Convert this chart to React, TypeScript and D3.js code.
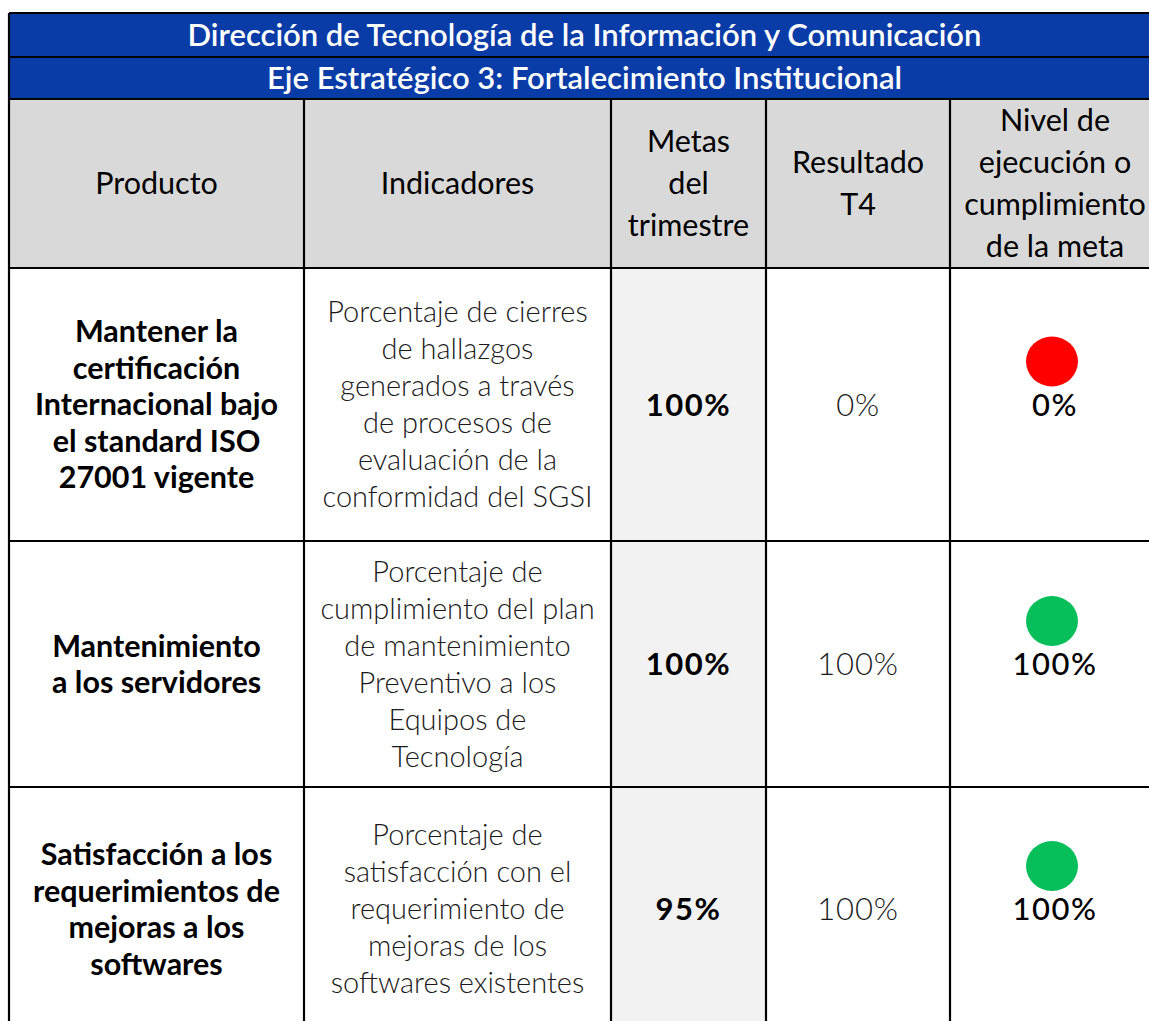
import React from 'react';
import * as d3 from 'd3';

const titles = [
  'Dirección de Tecnología de la Información y Comunicación',
  'Eje Estratégico 3: Fortalecimiento Institucional',
];

const headers = [
  ['Producto'],
  ['Indicadores'],
  ['Metas', 'del', 'trimestre'],
  ['Resultado', 'T4'],
  ['Nivel de', 'ejecución o', 'cumplimiento', 'de la meta'],
];

const products = [
  ['Mantener la', 'certificación', 'Internacional bajo', 'el standard ISO', '27001 vigente'],
  ['Mantenimiento', 'a los servidores'],
  ['Satisfacción a los', 'requerimientos de', 'mejoras a los', 'softwares'],
];

const indicators = [
  ['Porcentaje de cierres', 'de hallazgos', 'generados a través', 'de procesos de', 'evaluación de la', 'conformidad del SGSI'],
  ['Porcentaje de', 'cumplimiento del plan', 'de mantenimiento', 'Preventivo a los', 'Equipos de', 'Tecnología'],
  ['Porcentaje de', 'satisfacción con el', 'requerimiento de', 'mejoras de los', 'softwares existentes'],
];

const metas = [100, 100, 95];
const resultados = [0, 100, 100];
const cumplimiento = [0, 100, 100];

// layout
const colWidths = [295, 307, 155, 184, 210];
const rowHeights = [44, 42, 169, 273, 246, 244];
const x0 = 9;
const y0 = 13;
const xEdges = [x0, ...Array.from(d3.cumsum(colWidths), (d) => x0 + d)];
const yEdges = [y0, ...Array.from(d3.cumsum(rowHeights), (d) => y0 + d)];
const tableRight = xEdges[xEdges.length - 1];
const colCenter = (i: number) => (xEdges[i] + xEdges[i + 1]) / 2;
const rowCenter = (i: number) => (yEdges[i] + yEdges[i + 1]) / 2;

const BLUE = '#0a3ca8';
const FONT = 'Lato, "Noto Sans", sans-serif';

const pct = (v: number) => `${v}%`;
const status = d3.scaleThreshold<number, string>().domain([50]).range(['#ff0000', '#06bf5a']);

function Lines({ lines, x, cy, step, ...rest }: any) {
  const start = cy - ((lines.length - 1) * step) / 2;
  return (
    <text x={x} textAnchor="middle" fontFamily={FONT} {...rest}>
      {lines.map((l: string, i: number) => (
        <tspan key={i} x={x} y={start + i * step} dy="0.36em">{l}</tspan>
      ))}
    </text>
  );
}

export default function App() {
  const bodyRows = [3, 4, 5];
  return (
    <svg
      width={1149}
      height={1021}
      style={{ position: 'absolute', left: 0, top: 0, background: '#fff' }}
    >
      {/* title bands */}
      {titles.map((t, i) => (
        <g key={t}>
          <rect x={x0} y={yEdges[i]} width={tableRight - x0} height={rowHeights[i]} fill={BLUE} />
          <text
            x={(x0 + tableRight) / 2}
            y={rowCenter(i)}
            dy="0.36em"
            textAnchor="middle"
            fill="#fff"
            fontFamily={FONT}
            fontWeight={600}
            fontSize={31}
          >
            {t}
          </text>
        </g>
      ))}

      {/* header row */}
      <rect x={x0} y={yEdges[2]} width={tableRight - x0} height={rowHeights[2]} fill="#d9d9d9" />
      {headers.map((h, i) => (
        <Lines key={i} lines={h} x={colCenter(i)} cy={rowCenter(2)} step={42} fontSize={30.5} fill="#000" />
      ))}

      {/* metas column shading */}
      <rect x={xEdges[2]} y={yEdges[3]} width={colWidths[2]} height={yEdges[6] - yEdges[3]} fill="#f2f2f2" />

      {bodyRows.map((r, k) => (
        <g key={r}>
          <Lines lines={products[k]} x={colCenter(0)} cy={rowCenter(r)} step={36.5} fontSize={30.5} fontWeight={700} fill="#000" />
          <Lines lines={indicators[k]} x={colCenter(1)} cy={rowCenter(r)} step={37} fontSize={29} fontWeight={300} fill="#1a1a1a" />
          <text x={colCenter(2)} y={rowCenter(r)} dy="0.36em" textAnchor="middle" fontFamily={FONT} fontWeight={700} fontSize={31} letterSpacing={1.5}>
            {pct(metas[k])}
          </text>
          <text x={colCenter(3)} y={rowCenter(r)} dy="0.36em" textAnchor="middle" fontFamily={FONT} fontWeight={300} fontSize={31} letterSpacing={0.8} fill="#1a1a1a">
            {pct(resultados[k])}
          </text>
          <ellipse cx={colCenter(4) - 3} cy={rowCenter(r) - 43} rx={26} ry={25} fill={status(cumplimiento[k])} />
          <text x={colCenter(4)} y={rowCenter(r)} dy="0.36em" textAnchor="middle" fontFamily={FONT} fontWeight={500} fontSize={31} letterSpacing={1.5}>
            {pct(cumplimiento[k])}
          </text>
        </g>
      ))}

      {/* grid lines */}
      <g stroke="#000" strokeWidth={2.2}>
        {yEdges.slice(0, 6).map((y, i) => (
          <line key={`h${i}`} x1={x0} x2={tableRight} y1={y} y2={y} />
        ))}
        <line x1={x0} x2={x0} y1={y0} y2={yEdges[6]} />
        {xEdges.slice(1, 5).map((x, i) => (
          <line key={`v${i}`} x1={x} x2={x} y1={yEdges[2]} y2={yEdges[6]} />
        ))}
      </g>
    </svg>
  );
}
